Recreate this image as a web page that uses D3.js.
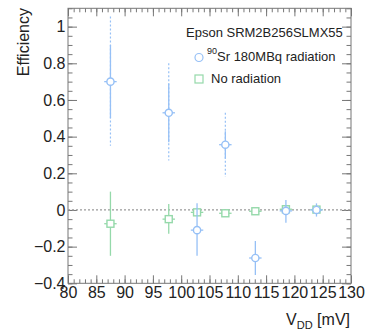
<!DOCTYPE html>
<html>
<head>
<meta charset="utf-8">
<script src="https://cdn.jsdelivr.net/npm/d3@7"></script>
<style>
body { margin: 0; background: #fff; }
text { font-family: "Liberation Sans", Arial, sans-serif; fill: #222; }
</style>
</head>
<body>
<svg id="chart" width="368" height="336"></svg>
<script>
// VDD points (mV)
var vdd = [87.5, 97.8, 102.8, 107.8, 113.1, 118.5, 123.9];
var vddErr = 1.1;

// 90Sr 180MBq radiation
var srEff = [0.70, 0.53, -0.11, 0.356, -0.262, -0.005, 0.0];
var srLo = [0.50, 0.37, -0.25, 0.28, -0.355, -0.07, -0.036];
var srHi = [0.90, 0.69, 0.037, 0.43, -0.169, 0.055, 0.036];
// dotted bars (only first points)
var srSysLo = [0.35, 0.27, null, 0.18, null, null, null];
var srSysHi = [1.055, 0.80, null, 0.53, null, null, null];

// no radiation
var noEff = [-0.075, -0.05, -0.013, -0.018, -0.007, 0.004, 0.002];
var noLo = [-0.25, -0.13, -0.025, -0.028, -0.013, -0.006, -0.008];
var noHi = [0.10, 0.033, 0.0, -0.008, -0.001, 0.014, 0.012];

var xTicks = [80, 85, 90, 95, 100, 105, 110, 115, 120, 125, 130];
var yTicks = [-0.4, -0.2, 0, 0.2, 0.4, 0.6, 0.8, 1];

var blue = "#96c0f6", green = "#95d9aa";

var svg = d3.select("#chart"),
    margin = {left: 68, top: 8.3, right: 17, bottom: 52.7},
    W = 368 - margin.left - margin.right,
    H = 336 - margin.top - margin.bottom;

var g = svg.append("g").attr("transform", "translate(" + margin.left + "," + margin.top + ")");

var x = d3.scaleLinear().domain([80, 130]).range([0, W]);
var y = d3.scaleLinear().domain([-0.4, 1.1]).range([H, 0]);

var minorX = d3.range(80, 130.01, 1);
var minorY = d3.range(-0.4, 1.1001, 0.05);

function styleAxis(sel) {
    sel.select(".domain").remove();
    sel.selectAll("line").attr("stroke", "#777");
}

// bottom
g.append("g").attr("transform", "translate(0," + H + ")")
    .call(d3.axisBottom(x).tickValues(minorX).tickSize(-4).tickFormat(""))
    .call(styleAxis);
g.append("g").attr("transform", "translate(0," + H + ")")
    .call(d3.axisBottom(x).tickValues(xTicks).tickSize(-8).tickPadding(3.5).tickFormat(d3.format("d")))
    .call(styleAxis)
    .selectAll("text").style("font-size", "16px").attr("fill", "#222");
// top
g.append("g").call(d3.axisTop(x).tickValues(minorX).tickSize(-4).tickFormat("")).call(styleAxis);
g.append("g").call(d3.axisTop(x).tickValues(xTicks).tickSize(-8).tickFormat("")).call(styleAxis);
// left
g.append("g").call(d3.axisLeft(y).tickValues(minorY).tickSize(-4.5).tickFormat("")).call(styleAxis);
g.append("g")
    .call(d3.axisLeft(y).tickValues(yTicks).tickSize(-9).tickPadding(2.5)
        .tickFormat(function (d) { return d3.format("")(+d.toFixed(1)).replace("-", "\u2212"); }))
    .call(styleAxis)
    .selectAll("text").style("font-size", "16px").attr("fill", "#222");
// right
g.append("g").attr("transform", "translate(" + W + ",0)")
    .call(d3.axisRight(y).tickValues(minorY).tickSize(-4.5).tickFormat("")).call(styleAxis);
g.append("g").attr("transform", "translate(" + W + ",0)")
    .call(d3.axisRight(y).tickValues(yTicks).tickSize(-9).tickFormat("")).call(styleAxis);

// frame
g.append("rect").attr("width", W).attr("height", H)
    .attr("fill", "none").attr("stroke", "#777").attr("stroke-width", 1);

// zero line
g.append("line").attr("x1", 0).attr("x2", W).attr("y1", y(0)).attr("y2", y(0))
    .attr("stroke", "#999").attr("stroke-width", 1.2).attr("stroke-dasharray", "2,2");

function drawSeries(eff, lo, hi, sysLo, sysHi, color, shape) {
    var s = g.append("g");
    vdd.forEach(function (v, i) {
        if (sysLo && sysLo[i] != null) {
            s.append("line").attr("x1", x(v)).attr("x2", x(v))
                .attr("y1", y(sysHi[i])).attr("y2", y(sysLo[i]))
                .attr("stroke", color).attr("stroke-width", 1.2).attr("stroke-dasharray", "2,2");
        }
        s.append("line").attr("x1", x(v)).attr("x2", x(v))
            .attr("y1", y(hi[i])).attr("y2", y(lo[i]))
            .attr("stroke", color).attr("stroke-width", 1.3);
        s.append("line").attr("x1", x(v - vddErr)).attr("x2", x(v + vddErr))
            .attr("y1", y(eff[i])).attr("y2", y(eff[i]))
            .attr("stroke", color).attr("stroke-width", 1.3);
        if (shape == "circle") {
            s.append("circle").attr("cx", x(v)).attr("cy", y(eff[i])).attr("r", 3.6)
                .attr("fill", "#fff").attr("stroke", color).attr("stroke-width", 1.4);
        } else {
            s.append("rect").attr("x", x(v) - 3.5).attr("y", y(eff[i]) - 3.5)
                .attr("width", 7).attr("height", 7)
                .attr("fill", "#fff").attr("stroke", color).attr("stroke-width", 1.4);
        }
    });
}
drawSeries(noEff, noLo, noHi, null, null, green, "square");
drawSeries(srEff, srLo, srHi, srSysLo, srSysHi, blue, "circle");

// legend
svg.append("text").attr("x", 186).attr("y", 37.3).style("font-size", "13px").text("Epson SRM2B256SLMX55");
svg.append("circle").attr("cx", 199).attr("cy", 57.5).attr("r", 4)
    .attr("fill", "#fff").attr("stroke", blue).attr("stroke-width", 1.2);
var t2 = svg.append("text").attr("x", 207).attr("y", 61).style("font-size", "13px");
t2.append("tspan").attr("dy", -7).style("font-size", "9px").text("90");
t2.append("tspan").attr("dy", 7).text("Sr 180MBq radiation");
svg.append("rect").attr("x", 195).attr("y", 75).attr("width", 8).attr("height", 8)
    .attr("fill", "#fff").attr("stroke", green).attr("stroke-width", 1.2);
svg.append("text").attr("x", 211).attr("y", 83.3).style("font-size", "13px").text("No radiation");

// axis titles
svg.append("text").attr("transform", "translate(28.5,8) rotate(-90)")
    .attr("text-anchor", "end").style("font-size", "16px").text("Efficiency");
var xt = svg.append("text").attr("x", 350).attr("y", 325).attr("text-anchor", "end").style("font-size", "16px");
xt.append("tspan").text("V");
xt.append("tspan").attr("dy", 4).style("font-size", "11px").text("DD");
xt.append("tspan").attr("dy", -4).text(" [mV]");
</script>
</body>
</html>
